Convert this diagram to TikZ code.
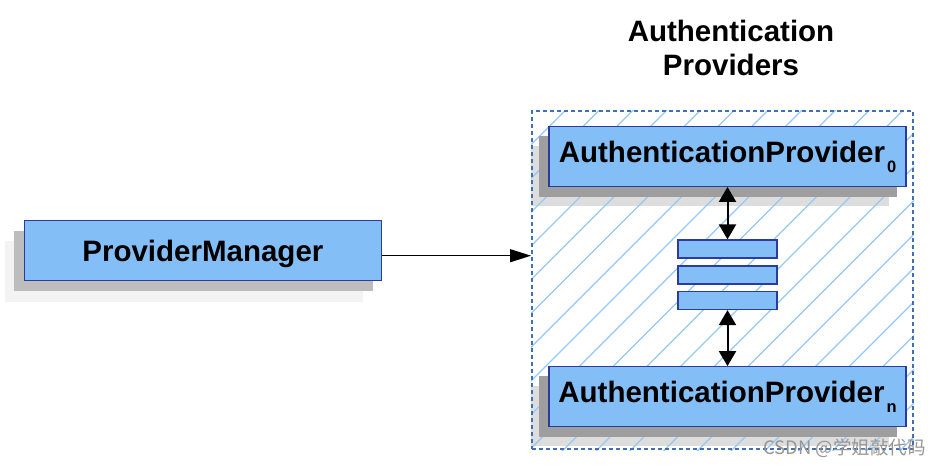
\documentclass[tikz,border=0pt]{standalone}
\usepackage{fontspec}
\setmainfont{Liberation Sans}
\newfontfamily\cjk{Noto Sans CJK SC}
\usetikzlibrary{arrows.meta,backgrounds}
\definecolor{boxfill}{RGB}{132,190,246}
\definecolor{boxline}{RGB}{44,60,158}
\definecolor{hatchc}{RGB}{150,200,245}
\definecolor{grpline}{RGB}{62,112,182}
\definecolor{shdarkA}{RGB}{158,158,158}
\definecolor{shlightA}{RGB}{221,221,221}
\definecolor{shdarkB}{RGB}{189,189,189}
\definecolor{shlightB}{RGB}{243,243,243}
\definecolor{wm}{RGB}{150,150,150}
\newcommand\subidx[1]{\raisebox{-10pt}{\fontsize{16.5}{16.5}\selectfont\bfseries #1}}
\begin{document}
\begin{tikzpicture}[x=1pt,y=-1pt,
 box/.style={draw=boxline, fill=boxfill, line width=1.3pt, inner sep=0pt,
   minimum width=357pt, minimum height=59.5pt,
   font=\fontsize{29.5}{34}\selectfont\bfseries},
 mini/.style={draw=boxline, fill=boxfill, line width=1.2pt, inner sep=0pt,
   minimum width=99pt, minimum height=18pt},
 grp/.style={draw=grpline, line width=2pt, dash pattern=on 4pt off 3pt,
   inner sep=0pt, minimum width=381pt, minimum height=338pt},
 hatch/.style={draw=hatchc, line width=1.2pt},
 title/.style={font=\fontsize{29.5}{34}\selectfont\bfseries, inner sep=0pt, anchor=base},
 link/.style={line width=1.3pt, -{Triangle[length=21pt,width=13pt]}},
 dlink/.style={line width=2pt, {Triangle[length=15pt,width=17pt]}-{Triangle[length=15pt,width=17pt]}},
 wmark/.style={font=\cjk\fontsize{18.5}{18.5}\selectfont, text=wm, inner sep=0pt, anchor=east},
]
\useasboundingbox (0,0) rectangle (942,467);

% titles
\node[title] (t1) at (731,41) {Authentication};
\node[title] (t2) at (731,75) {Providers};

% group
\node[grp] (grp) at (722.5,280) {};

% boxes
\node[box, text height=21pt, text depth=0pt] (pm) at (202.9,250.5) {ProviderManager};
\node[box, text height=21.5pt, text depth=10pt] (ap0) at (727.5,156.5)
  {AuthenticationProvider\kern2pt\subidx{0}};
\node[box, text height=21.5pt, text depth=10pt] (apn) at (727.5,396.5)
  {AuthenticationProvider\kern2pt\subidx{n}};

\node[mini] (r1) at (727.5,249) {};
\node[mini] (r2) at (727.5,275) {};
\node[mini] (r3) at (727.5,300.5) {};

% connectors
\draw[link] ([yshift=-5.2pt]pm.east) -- ([yshift=-5.2pt]pm.east -| grp.west);
\draw[dlink] (ap0.south) -- (r1.north);
\draw[dlink] (r3.south) -- (apn.north);

% watermark
\node[wmark] (wm) at (926,448) {CSDN @学姐敲代码};

\begin{scope}[on background layer]
  % light shadows
  \fill[shlightB] ([shift={(-19,21)}]pm.south west) rectangle ([shift={(-19,21)}]pm.north east);
  \fill[shlightA] ([shift={(-17.5,19.5)}]ap0.south west) rectangle ([shift={(-17.5,19.5)}]ap0.north east);
  \fill[shlightA] ([shift={(-17.5,19.5)}]apn.south west) rectangle ([shift={(-17.5,19.5)}]apn.north east);
  % hatching
  \begin{scope}
    \clip (grp.south west) rectangle (grp.north east);
    \foreach \k in {-3,...,19}{
      \draw[hatch] ({743.3+33.75*\k-460},460) -- ({743.3+33.75*\k-100},100);
    }
  \end{scope}
  % dark shadows
  \fill[shdarkB] ([shift={(-9.4,10.4)}]pm.south west) rectangle ([shift={(-9.4,10.4)}]pm.north east);
  \fill[shdarkA] ([shift={(-9.5,10)}]ap0.south west) rectangle ([shift={(-9.5,10)}]ap0.north east);
  \fill[shdarkA] ([shift={(-9.5,10)}]apn.south west) rectangle ([shift={(-9.5,10)}]apn.north east);
\end{scope}
\end{tikzpicture}
\end{document}
